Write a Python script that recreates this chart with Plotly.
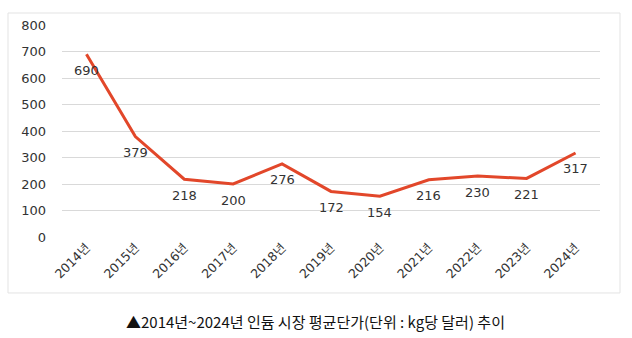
import plotly.graph_objects as go

# Average indium market price, USD per kg
years = ["2014년", "2015년", "2016년", "2017년", "2018년", "2019년",
         "2020년", "2021년", "2022년", "2023년", "2024년"]
prices = [690, 379, 218, 200, 276, 172, 154, 216, 230, 221, 317]
y_ticks = [0, 100, 200, 300, 400, 500, 600, 700, 800]
caption = "▲2014년~2024년 인듐 시장 평균단가(단위 : kg당 달러) 추이"

LINE_COLOR = "#E2472A"
GRID_COLOR = "#D9D9D9"
TEXT_COLOR = "#333333"
NUM_FONT = "DejaVu Sans, Liberation Sans, Noto Sans CJK KR, sans-serif"

fig = go.Figure()
fig.add_trace(go.Scatter(
    x=years, y=prices, mode="lines",
    line=dict(color=LINE_COLOR, width=3),
    hoverinfo="skip", showlegend=False,
))

# value labels under each point
for yr, v in zip(years, prices):
    fig.add_annotation(
        x=yr, y=v, text=str(v), showarrow=False,
        yshift=-16, xanchor="center", yanchor="middle",
        font=dict(family=NUM_FONT, size=13, color=TEXT_COLOR),
    )

# outer frame around the chart
fig.add_shape(
    type="rect", xref="paper", yref="paper",
    x0=-0.1004, x1=1.0372, y0=-0.264, y1=1.0566,
    line=dict(color="#E3E3E3", width=1), fillcolor="rgba(0,0,0,0)",
    layer="below",
)

fig.add_annotation(
    xref="paper", yref="paper", x=(315 - 62) / 538, y=(237 - 321) / 212,
    text=caption, showarrow=False, xanchor="center", yanchor="middle",
    font=dict(family="Noto Sans CJK KR, sans-serif", size=15, color="#111111"),
)

fig.update_layout(
    width=632, height=338,
    margin=dict(l=62, r=32, t=25, b=101),
    paper_bgcolor="white", plot_bgcolor="white",
    xaxis=dict(
        type="category", range=[-0.5, 10.5],
        showgrid=False, showline=False, zeroline=False,
        tickangle=-45,
        tickfont=dict(family=NUM_FONT, size=12.5, color=TEXT_COLOR),
        fixedrange=True,
    ),
    yaxis=dict(
        range=[0, 800], tickvals=y_ticks,
        showgrid=True, gridcolor=GRID_COLOR, gridwidth=1,
        zeroline=False, showline=False,
        ticklabelstandoff=15,
        tickfont=dict(family=NUM_FONT, size=13, color=TEXT_COLOR),
        fixedrange=True,
    ),
)

fig.write_html("out.html")
